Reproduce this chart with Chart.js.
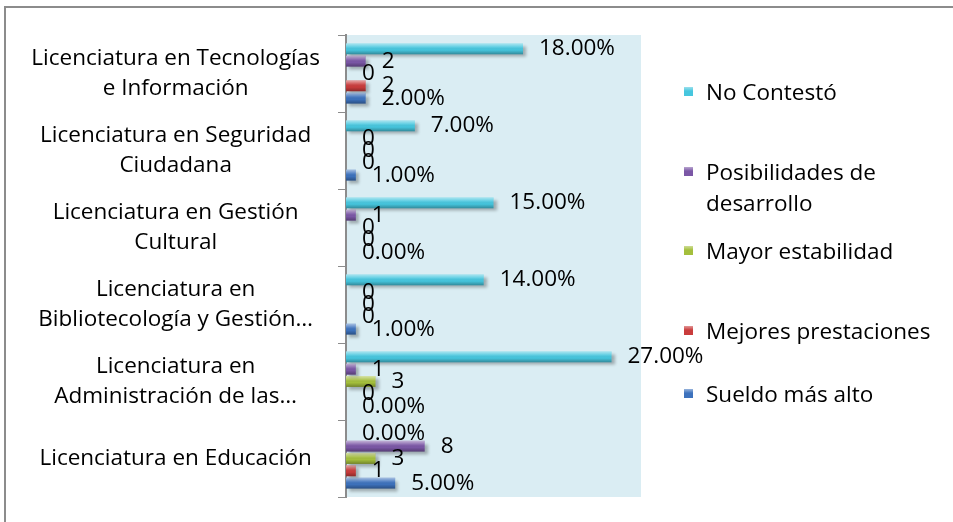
<!DOCTYPE html>
<html>
<head>
<meta charset="utf-8">
<script src="https://cdn.jsdelivr.net/npm/chart.js@4.4.0/dist/chart.umd.min.js"></script>
<style>
  html, body { margin:0; padding:0; background:#fff; }
  #wrap { position:relative; width:953px; height:522px; overflow:hidden; font-family:"Open Sans", sans-serif; }
  #frame { position:absolute; left:4px; top:6px; width:1000px; height:600px; border-left:2px solid #8c8c8c; border-top:2px solid #8c8c8c; }
  #chart { position:absolute; left:0; top:0; }
  .lg { position:absolute; left:684px; font-size:22.5px; line-height:31px; color:#000; }
  .lg .sw { position:absolute; left:0; top:11px; width:9px; height:9px; }
  .lg .tx { position:absolute; left:22px; top:0; width:250px; }
</style>
</head>
<body>
<div id="wrap">
  <div id="frame"></div>
  <canvas id="chart" width="953" height="522"></canvas>
  <div id="legend"></div>
</div>
<script>
// categorias (de arriba hacia abajo)
const categories = [
  ["Licenciatura en Tecnologías", "e Información"],
  ["Licenciatura en Seguridad", "Ciudadana"],
  ["Licenciatura en Gestión", "Cultural"],
  ["Licenciatura en", "Bibliotecología y Gestión…"],
  ["Licenciatura en", "Administración de las…"],
  "Licenciatura en Educación"
];

const seriesNames = ["No Contestó", "Posibilidades de desarrollo", "Mayor estabilidad", "Mejores prestaciones", "Sueldo más alto"];
const noContesto    = [18, 7, 15, 14, 27, 0];
const posibilidades = [2, 0, 1, 0, 1, 8];
const estabilidad   = [0, 0, 0, 0, 3, 3];
const prestaciones  = [2, 0, 0, 0, 0, 1];
const sueldo        = [2, 1, 0, 1, 0, 5];
const labelFormats  = ["pct", "int", "int", "int", "pct"];

const seriesValues = [noContesto, posibilidades, estabilidad, prestaciones, sueldo];
const seriesColors = ["#46c6de", "#7b57a6", "#a4bf3c", "#c93c3c", "#3d72bd"];
const legendTops   = [76, 156, 235, 315, 378];

const FONT = '"Open Sans", sans-serif';
const FSIZE = 22.5;

function fmt(kind, v) { return kind === "pct" ? v.toFixed(2) + "%" : String(v); }

// fondo del area de trazado, sombra, brillo y etiquetas
const barDeco = {
  id: "barDeco",
  beforeDraw(chart) {
    const {ctx, chartArea: a} = chart;
    ctx.save();
    ctx.fillStyle = "#daedf3";
    ctx.fillRect(a.left, a.top, a.right - a.left, a.bottom - a.top);
    ctx.restore();
  },
  beforeDatasetsDraw(chart) {
    const ctx = chart.ctx;
    ctx.save();
    ctx.shadowColor = "rgba(0,0,0,0.28)";
    ctx.shadowOffsetX = 3;
    ctx.shadowOffsetY = 3;
    ctx.shadowBlur = 3;
  },
  afterDatasetsDraw(chart) {
    const ctx = chart.ctx;
    ctx.restore();
    chart.data.datasets.forEach((ds, i) => {
      chart.getDatasetMeta(i).data.forEach((bar, j) => {
        const p = bar.getProps(["x", "y", "base", "height"], true);
        const w = p.x - p.base;
        if (w > 0.5) {
          const top = p.y - p.height / 2;
          const g = ctx.createLinearGradient(0, top, 0, top + p.height);
          g.addColorStop(0, "rgba(255,255,255,0.55)");
          g.addColorStop(0.35, "rgba(255,255,255,0.12)");
          g.addColorStop(0.6, "rgba(0,0,0,0)");
          g.addColorStop(1, "rgba(0,0,0,0.30)");
          ctx.fillStyle = g;
          ctx.fillRect(p.base, top, w, p.height);
        }
        ctx.fillStyle = "#000";
        ctx.font = FSIZE + "px " + FONT;
        ctx.textAlign = "left";
        ctx.textBaseline = "middle";
        ctx.fillText(fmt(labelFormats[i], ds.data[j]), p.x + 16, p.y);
      });
    });
  }
};

new Chart(document.getElementById("chart"), {
  type: "bar",
  data: {
    labels: categories,
    datasets: seriesNames.map((n, i) => ({
      label: n,
      data: seriesValues[i],
      backgroundColor: seriesColors[i],
      borderWidth: 0,
      categoryPercentage: 0.8,
      barPercentage: 0.88
    }))
  },
  options: {
    indexAxis: "y",
    responsive: false,
    animation: false,
    devicePixelRatio: 1,
    layout: { padding: { top: 35, bottom: 25, left: 0, right: 312 } },
    plugins: { legend: { display: false }, tooltip: { enabled: false } },
    scales: {
      x: { display: false, min: 0, max: 30 },
      y: {
        grid: { offset: true, drawOnChartArea: false, tickLength: 8, color: "#8c8c8c" },
        border: { color: "#8c8c8c", width: 2 },
        ticks: { color: "#000", font: { family: FONT, size: FSIZE, lineHeight: 1.35 }, crossAlign: "center", padding: 18 },
        afterFit(s) { s.width = 346; s.paddingTop = 0; s.paddingBottom = 0; }
      }
    }
  },
  plugins: [barDeco]
});

// leyenda
const lg = document.getElementById("legend");
seriesNames.forEach((n, i) => {
  const d = document.createElement("div");
  d.className = "lg";
  d.style.top = legendTops[i] + "px";
  d.innerHTML = `<span class="sw" style="background:linear-gradient(${seriesColors[i]}88, ${seriesColors[i]} 45%, ${seriesColors[i]})"></span><span class="tx">${n}</span>`;
  lg.appendChild(d);
});
</script>
</body>
</html>
